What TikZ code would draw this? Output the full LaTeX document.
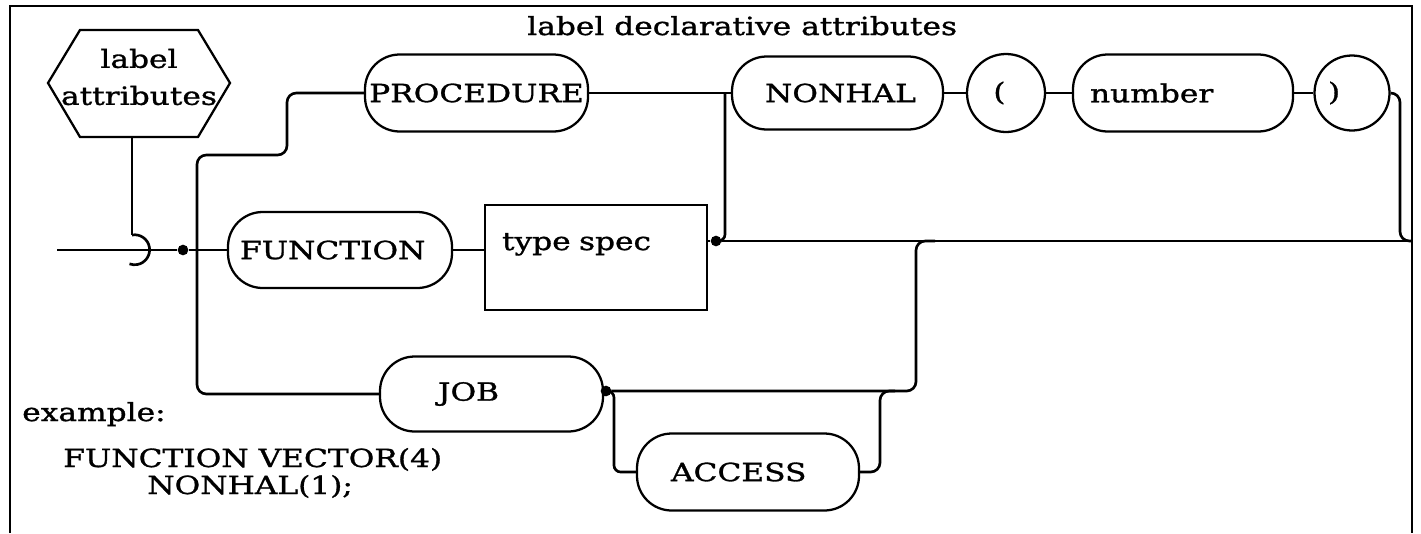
\documentclass[tikz,border=0pt]{standalone}
\usepackage{fontspec}
\newfontfamily\labfont{DejaVu Serif}[FakeStretch=1.25,FakeBold=1.2]
\begin{document}
\begin{tikzpicture}[x=0.75pt,y=-0.75pt,
  txt/.style={font=\labfont\fontsize{18.75}{22.5}\selectfont, inner sep=0pt},
  shp/.style={draw, line width=1.7pt},
  pill/.style={txt, shp, rectangle, rounded corners=26pt, inner ysep=0pt, align=left},
  circ/.style={txt, shp, circle, inner sep=0pt},
  conn/.style={line width=2pt, line join=round},
  dotn/.style={circle, fill=black, inner sep=0pt, minimum size=8pt},
]
\useasboundingbox (0,0) rectangle (1421,533);
% frame
\draw[line width=1.9pt] (10,533) -- (10,6) -- (1412,6) -- (1412,533);
\node[txt, anchor=base west] (title) at (527,35) {label declarative attributes};

% hexagon
\draw[shp] (48,83) -- (80,30) -- (198,30) -- (230,83) -- (198,137) -- (80,137) -- cycle;
\node[txt, align=center, font=\labfont\fontsize{18.75}{27.75}\selectfont] (hex) at (139,77) {label\\attributes};

% nodes
\node[pill, minimum width=167.25pt, minimum height=57.75pt] (proc) at (476.5,93) {PROCEDURE};
\node[pill, minimum width=168pt, minimum height=57pt, inner xsep=9pt, text width=150pt] (fn) at (340,250) {FUNCTION};
\node[txt, shp, rectangle, minimum width=166.5pt, minimum height=78.75pt, inner xsep=12.75pt, text width=141pt, align=left, text height=33.75pt, text depth=45pt] (ts) at (596,257.5) {type spec};
\node[pill, minimum width=158.25pt, minimum height=54.75pt, inner xsep=24.75pt, text width=108.75pt] (nonhal) at (837.5,93) {NONHAL};
\node[circ, minimum size=58.5pt] (lp) at (1006,93) {\makebox[19pt][l]{(}};
\node[pill, minimum width=165pt, minimum height=57.75pt, inner xsep=12.75pt, text width=139.5pt] (num) at (1183,93) {number};
\node[circ, minimum size=56.25pt] (rp) at (1352,93) {\makebox[36pt][l]{)}};
\node[pill, minimum width=167.25pt, minimum height=56.25pt, inner xsep=43.5pt, text width=80.25pt] (job) at (491.5,394) {JOB};
\node[pill, minimum width=166.5pt, minimum height=57.75pt, inner xsep=25.5pt, text width=115.5pt] (acc) at (748,472) {ACCESS};

% example
\node[txt, anchor=base west] (ex1) at (22,421) {example:};
\node[txt, anchor=base west] (ex2) at (63,467) {FUNCTION VECTOR(4)};
\node[txt, anchor=base west] (ex3) at (147,494) {NONHAL(1);};

% connectors
\coordinate (hexb) at (132,137);
\coordinate (arctop) at (132,235);
\coordinate (start) at (57,250);
\node[dotn] (d1) at (183,250) {};
\coordinate (j1) at (197,250);
\draw[conn] (hexb) -- (arctop);
\draw[conn] (arctop) arc[start angle=100, end angle=-110, radius=11.25pt];
\draw[conn] (start) -- (d1) -- (j1) -- (fn.west);
\draw[conn, rounded corners=7pt] (j1) |- (287,155) |- (proc.west);
\draw[conn, rounded corners=7pt] (j1) |- (job.west);
\draw[conn] (fn.east) -- (fn.east -| ts.west);
\draw[conn] (proc.east) -- (nonhal.west) (nonhal.east) -- (lp.west) (lp.east) -- (num.west) (num.east) -- (rp.west);

\coordinate (j2) at (725,93);
\node[dotn] (d2) at (716,241) {};
\coordinate (rloop) at (1400,241);
\coordinate (exitp) at (1412,241);
\draw[conn] (ts.east |- d2) -- (d2) -- (exitp);
\draw[conn, rounded corners=5pt] (j2) |- (d2);
\draw[conn, rounded corners=7pt] (rp.east) -| (rloop) -- (exitp);

\node[dotn] (d3) at (606,391) {};
\coordinate (jm) at (916,241);
\coordinate (m1) at (935,241);
\draw[conn] (job.east) -- (d3);
\draw[conn, rounded corners=7pt] (d3) -| (jm) -- (m1);
\coordinate (ja) at (614,391);
\draw[conn, rounded corners=5pt] (d3) -- (ja) |- (acc.west);
\coordinate (jb) at (880,391);
\coordinate (m2) at (895,391);
\draw[conn, rounded corners=7pt] (acc.east) -| (jb) -- (m2);
\end{tikzpicture}
\end{document}
